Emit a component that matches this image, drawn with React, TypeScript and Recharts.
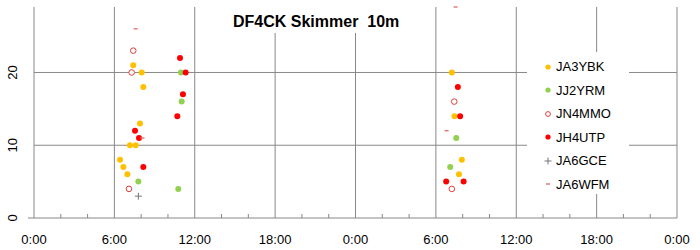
import React from "react";
import { ScatterChart, Scatter, XAxis, YAxis, ReferenceLine, Legend } from "recharts";

// time of day in hours over two days (0..48), spot count
const ja3ybkHours = [7.41, 8.04, 8.16, 7.91, 7.16, 7.59, 6.42, 6.67, 6.97, 31.19, 31.39, 31.94, 31.72];
const ja3ybkSpots = [21, 20, 18, 13, 10, 10, 8, 7, 6, 20, 14, 8, 6];

const jj2yrmHours = [7.79, 10.97, 11.02, 10.77, 31.52, 31.07];
const jj2yrmSpots = [5, 20, 16, 4, 11, 7];

const jn4mmoHours = [7.41, 7.29, 7.09, 31.37, 31.19];
const jn4mmoSpots = [23, 20, 4, 16, 4];

const jh4utpHours = [7.54, 7.84, 8.16, 10.9, 11.32, 11.12, 10.7, 31.64, 31.81, 30.77, 32.07];
const jh4utpSpots = [12, 11, 7, 22, 20, 17, 14, 18, 14, 5, 5];

const ja6gceHours = [7.79];
const ja6gceSpots = [3];

const ja6wfmHours = [7.59, 8.1, 31.47, 30.8];
const ja6wfmSpots = [26, 11, 29, 12];

const hourTicks = [0, 2, 4, 6, 8, 10, 12, 14, 16, 18, 20, 22, 24, 26, 28, 30, 32, 34, 36, 38, 40, 42, 44, 46, 48];
const gridHours = [6, 12, 18, 24, 30, 36, 42, 48];
const spotTicks = [0, 10, 20];

const FONT = "'Liberation Sans', Arial, sans-serif";
const GRID = "#888888";

const zip = (hours: number[], spots: number[]) => hours.map((h, i) => ({ h, n: spots[i] }));

const dot = (fill: string, r = 3) => (p: any) => <circle cx={p.cx} cy={p.cy} r={r} fill={fill} />;
const ring = (p: any) => <circle cx={p.cx} cy={p.cy} r={2.8} fill="#fff" stroke="#E0403C" strokeWidth={1} />;
const plus = (p: any) => (
  <g stroke="#777" strokeWidth={1}>
    <line x1={p.cx - 3.5} y1={p.cy} x2={p.cx + 3.5} y2={p.cy} />
    <line x1={p.cx} y1={p.cy - 3.5} x2={p.cx} y2={p.cy + 3.5} />
  </g>
);
const dash = (p: any) => <rect x={p.cx - 2} y={p.cy - 0.7} width={4} height={1.4} fill="#E57373" />;

const series = [
  { name: "JA3YBK", data: zip(ja3ybkHours, ja3ybkSpots), shape: dot("#FFC000") },
  { name: "JJ2YRM", data: zip(jj2yrmHours, jj2yrmSpots), shape: dot("#92D050") },
  { name: "JN4MMO", data: zip(jn4mmoHours, jn4mmoSpots), shape: ring },
  { name: "JH4UTP", data: zip(jh4utpHours, jh4utpSpots), shape: dot("#FF0000") },
  { name: "JA6GCE", data: zip(ja6gceHours, ja6gceSpots), shape: plus },
  { name: "JA6WFM", data: zip(ja6wfmHours, ja6wfmSpots), shape: dash },
];
const seriesOrder = series.map((s) => s.name);

const legendMarker = (name: string) => {
  const p = { cx: 8, cy: 8 };
  if (name === "JA3YBK") return dot("#FFC000", 2.6)(p);
  if (name === "JJ2YRM") return dot("#92D050", 2.6)(p);
  if (name === "JN4MMO") return <circle cx={8} cy={8} r={2.4} fill="#fff" stroke="#E0403C" strokeWidth={1} />;
  if (name === "JH4UTP") return dot("#FF0000", 2.6)(p);
  if (name === "JA6GCE") return plus(p);
  return dash(p);
};

const XTick = (props: any) => {
  const { x, y, payload } = props;
  const v = payload.value;
  if (v % 6 !== 0) return <line x1={x} y1={y - 4} x2={x} y2={y} stroke={GRID} />;
  return (
    <text x={x} y={y + 26} textAnchor="middle" fontSize={13} fontFamily={FONT} fill="#000">
      {`${v % 24}:00`}
    </text>
  );
};

const YTick = (props: any) => {
  const { y, payload } = props;
  return (
    <g>
      {payload.value === 0 && <line x1={28} y1={y} x2={34} y2={y} stroke={GRID} />}
      <text
        transform={`translate(16.5, ${y}) rotate(-90)`}
        textAnchor="middle"
        fontSize={13}
        fontFamily={FONT}
        fill="#000"
      >
        {payload.value}
      </text>
    </g>
  );
};

const LegendBox = (props: any) => {
  const items = [...props.payload].sort(
    (a: any, b: any) => seriesOrder.indexOf(a.value) - seriesOrder.indexOf(b.value)
  );
  return (
    <div style={{ paddingTop: 3 }}>
      {items.map((item: any) => (
        <div key={item.value} style={{ display: "flex", alignItems: "center", height: 23.5 }}>
          <svg width={16} height={16} style={{ marginLeft: 13 }}>
            {legendMarker(item.value)}
          </svg>
          <span style={{ fontFamily: FONT, fontSize: 13, color: "#000" }}>{item.value}</span>
        </div>
      ))}
    </div>
  );
};

export default function App() {
  return (
    <div style={{ position: "fixed", left: 0, top: 0, width: 700, height: 250, background: "#fff" }}>
      <ScatterChart width={700} height={250} margin={{ top: 7, right: 23, bottom: 0, left: 0 }}>
        <XAxis
          type="number"
          dataKey="h"
          domain={[0, 48]}
          ticks={hourTicks}
          interval={0}
          height={32}
          tickSize={0}
          tickMargin={0}
          tickLine={false}
          axisLine={{ stroke: GRID }}
          tick={<XTick />}
        />
        <YAxis
          type="number"
          dataKey="n"
          domain={[0, 29]}
          ticks={spotTicks}
          width={34}
          tickSize={0}
          tickMargin={0}
          tickLine={false}
          axisLine={{ stroke: GRID }}
          tick={<YTick />}
        />
        {gridHours.map((h) => (
          <ReferenceLine key={h} x={h} stroke={GRID} />
        ))}
        {spotTicks.slice(1).map((v) => (
          <ReferenceLine key={v} y={v} stroke={GRID} />
        ))}
        {series.map((s) => (
          <Scatter key={s.name} name={s.name} data={s.data} shape={s.shape} isAnimationActive={false} />
        ))}
        <Legend
          layout="vertical"
          align="center"
          verticalAlign="middle"
          content={<LegendBox />}
          wrapperStyle={{ left: 527, top: 52, width: 102, height: 142, background: "#fff" }}
        />
      </ScatterChart>
      <div
        style={{
          position: "absolute",
          left: 215,
          top: 0,
          width: 210,
          height: 33,
          background: "#fff",
        }}
      />
      <div
        style={{
          position: "absolute",
          left: 233,
          top: 0,
          fontFamily: FONT,
          fontWeight: "bold",
          fontSize: 16,
          lineHeight: "44px",
          whiteSpace: "pre",
          color: "#000",
        }}
      >
        {"DF4CK Skimmer  10m"}
      </div>
    </div>
  );
}
